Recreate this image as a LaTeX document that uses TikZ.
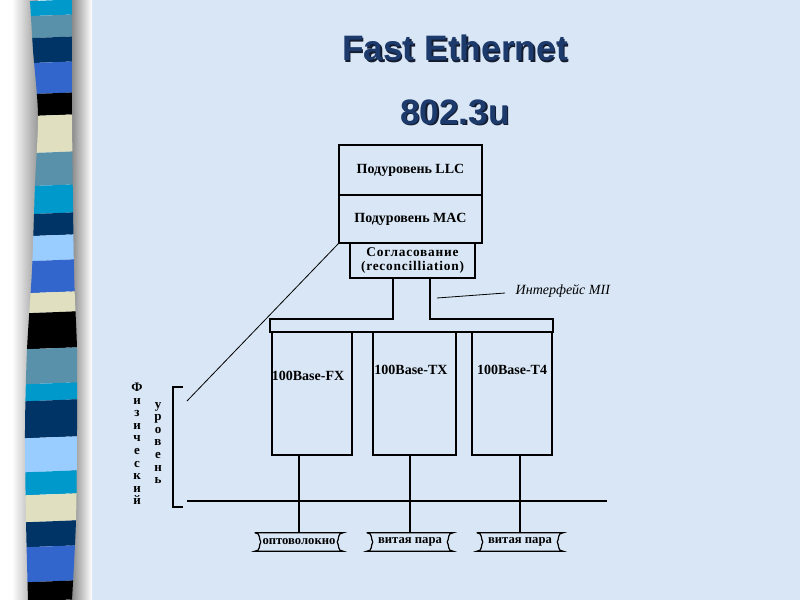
\documentclass[tikz,border=0pt]{standalone}
\usepackage{fontspec}
\setmainfont{Liberation Serif}
\newfontfamily\titlefont{Liberation Sans}
\usetikzlibrary{calc}

\definecolor{slidebg}{RGB}{216,230,245}
\definecolor{titleblue}{RGB}{28,58,108}
\definecolor{titleshade}{RGB}{20,28,48}
\definecolor{stripecyan}{RGB}{0,153,204}
\definecolor{stripesteel}{RGB}{90,145,170}
\definecolor{stripenavy}{RGB}{0,51,102}
\definecolor{stripeblue}{RGB}{51,102,204}
\definecolor{stripeblack}{RGB}{0,0,0}
\definecolor{stripecream}{RGB}{224,224,192}
\definecolor{stripesky}{RGB}{153,204,255}

\tikzset{
  wire/.style = {line width=0.9pt},
  thin wire/.style = {line width=0.6pt},
  layer box/.style = {
    draw, wire, inner sep=0pt,
    font=\bfseries\fontsize{10.5}{12}\selectfont
  },
  phy box/.style = {
    draw, wire, minimum width=#1, minimum height=92.25pt
  },
  phy label/.style = {font=\bfseries\fontsize{10.5}{12}\selectfont},
  medium tag/.style = {
    inner sep=0pt, minimum width=#1, minimum height=13.5pt,
    font=\bfseries\fontsize{9.5}{11}\selectfont
  },
  title text/.style = {font=\titlefont\bfseries\fontsize{26.5}{30}\selectfont},
  side text/.style = {
    align=center, inner sep=0pt,
    font=\bfseries\fontsize{9.75}{9.4}\selectfont
  }
}

% outline of a cable tag: straight top and bottom, curly ends
\newcommand{\tagoutline}[1]{%
  \draw[wire] (#1.north west) -- (#1.north east)
    .. controls +(-6,0) and +(2,-3) .. ($(#1.east)+(-6,0)$)
    .. controls +(2,3) and +(-6,0) .. (#1.south east)
    -- (#1.south west)
    .. controls +(6,0) and +(-2,3) .. ($(#1.west)+(6,0)$)
    .. controls +(-2,-3) and +(6,0) .. (#1.north west);
}

\begin{document}
\begin{tikzpicture}[x=0.75pt, y=-0.75pt]
\useasboundingbox (0,0) rectangle (800,600);

% --- Slide background and striped bar ---
\fill[slidebg] (92,0) rectangle (800,600);
\fill[white] (0,0) rectangle (92,600);
\shade[left color=white, right color=black!40] (12,0) rectangle (38,600);
\shade[left color=black!50, right color=white] (70,0) rectangle (92,600);
\begin{scope}
  \clip plot[smooth] coordinates {(30,0) (33,50) (38,115) (35,185) (32,270)
      (27,350) (25,430) (26,520) (28,600)}
    -- plot[smooth] coordinates {(72,600) (76,520) (77,430) (77,350)
      (74,270) (72,115) (72,0)} -- cycle;
  \foreach \ya/\yb/\c in {0/15/cyan, 15/37/steel, 37/62/navy, 62/93/blue,
      93/115/black, 115/152/cream, 152/185/steel, 185/213/cyan,
      213/235/navy, 235/260/sky, 260/292/blue, 292/312/cream,
      312/348/black, 348/383/steel, 383/400/cyan, 400/437/navy,
      437/471/sky, 471/494/cyan, 494/521/cream, 521/546/navy,
      546/581/blue, 581/600/black}
    \fill[stripe\c] (20,\ya+1.5) -- (85,\ya-1) -- (85,\yb-1) -- (20,\yb+1.5) -- cycle;
\end{scope}

% --- Title ---
\node[title text, text=titleshade] (titleshade) at (456.5,49.5) {Fast Ethernet};
\node[title text, text=titleblue] (title) at (455,48) {Fast Ethernet};
\node[title text, text=titleshade] (subtitleshade) at (456.5,113.5) {802.3u};
\node[title text, text=titleblue] (subtitle) at (455,112) {802.3u};

% --- MAC stack ---
\coordinate (Cllc) at (410.5,170);
\coordinate (Cmac) at (410.5,219);
\coordinate (Crec) at (412.5,260.5);

\node[layer box, minimum width=107.25pt, minimum height=37.5pt] (llc) at (Cllc) {Подуровень LLC};
\node[layer box, minimum width=107.25pt, minimum height=36pt] (mac) at (Cmac) {Подуровень MAC};
\node[layer box, minimum width=93.75pt, minimum height=26.25pt, align=center,
      font=\bfseries\fontsize{10}{10.5}\selectfont\addfontfeature{LetterSpace=6}]
  (rec) at (Crec) {Согласование\\(reconcilliation)};

% --- MII bus ---
\draw[wire] (393,278) -- (393,319) -- (270,319) -- (270,332) -- (553,332)
  -- (553,319) -- (430,319) -- (430,278);

\coordinate (miiA) at (437,298);
\coordinate (miiB) at (505,293);
\node[font=\itshape\fontsize{10.5}{12}\selectfont, anchor=west] (mii) at (511,291) {Интерфейс MII};
\draw[thin wire] (miiA) -- (miiB);

% --- Physical sublayers ---
\node[phy box=60pt] (fx) at (312,393.5) {};
\node[phy box=62.25pt] (tx) at (414.5,393.5) {};
\node[phy box=60pt] (t4) at (512,393.5) {};
\node[phy label] (fxlabel) at (308,376) {100Base-FX};
\node[phy label] (txlabel) at (411,370) {100Base-TX};
\node[phy label] (t4label) at (512,370) {100Base-T4};

% --- Media ---
\coordinate (mediumL) at (187,501);
\coordinate (mediumR) at (607,501);
\draw[wire] (mediumL) -- (mediumR);

\node[medium tag=66pt] (fiber) at (299,542) {оптоволокно};
\node[medium tag=64.5pt] (pairtx) at (410,542) {витая пара};
\node[medium tag=64.5pt] (pairt4) at (520,542) {витая пара};
\tagoutline{fiber}
\tagoutline{pairtx}
\tagoutline{pairt4}

\draw[wire] (fiber.north |- fx.south) -- (fiber.north);
\draw[wire] (pairtx.north |- tx.south) -- (pairtx.north);
\draw[wire] (pairt4.north |- t4.south) -- (pairt4.north);

% --- Physical layer bracket ---
\coordinate (diag) at (187,401);
\draw[thin wire] (mac.south west) -- (diag);
\draw[wire] (183,387) -- (173,387) -- (173,507) -- (183,507);

\node[side text] (phys) at (137,444) {Ф\\и\\з\\и\\ч\\е\\с\\к\\и\\й};
\node[side text] (level) at (158,443) {у\\р\\о\\в\\е\\н\\ь};

\end{tikzpicture}
\end{document}
